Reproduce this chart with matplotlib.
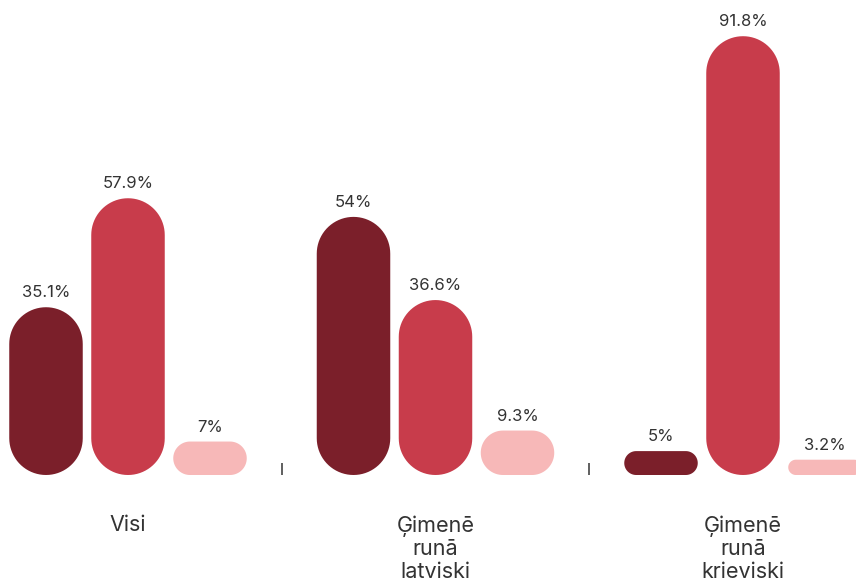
import numpy as np
import matplotlib.pyplot as plt
from matplotlib.patches import Polygon

categories = ["Visi", "Ģimenē\nrunā\nlatviski", "Ģimenē\nrunā\nkrieviski"]
series_a = [35.1, 54, 5]
series_b = [57.9, 36.6, 91.8]
series_c = [7, 9.3, 3.2]
colors = ["#7b1f2a", "#c83c4b", "#f7b8b8"]

plt.rcParams['font.family'] = ['Inter', 'DejaVu Sans']

W, H = 856, 583
fig = plt.figure(figsize=(W / 100, H / 100), dpi=100)
ax_h = 475
ax = fig.add_axes([0, (H - ax_h) / H, 1, ax_h / H])

group_px = 307.5
x_left = -128 / group_px
x_right = (W - 128) / group_px
y_top = ax_h / 4.78
ax.set_xlim(x_left, x_right)
ax.set_ylim(0, y_top)

# pixels per data unit, needed to keep the bar ends circular
sx = W / (x_right - x_left)
sy = ax_h / y_top


def pill(x0, w, h):
    # rounded both ends, radius = half of the smaller side (in pixels)
    r = min(w * sx, h * sy) / 2
    rx, ry = r / sx, r / sy
    cx_r, cx_l = x0 + w - rx, x0 + rx
    cy_t, cy_b = h - ry, ry
    pts = []
    for a in np.linspace(0, np.pi / 2, 20):
        pts.append((cx_r + rx * np.cos(a), cy_t + ry * np.sin(a)))
    for a in np.linspace(np.pi / 2, np.pi, 20):
        pts.append((cx_l + rx * np.cos(a), cy_t + ry * np.sin(a)))
    for a in np.linspace(np.pi, 1.5 * np.pi, 20):
        pts.append((cx_l + rx * np.cos(a), cy_b + ry * np.sin(a)))
    for a in np.linspace(1.5 * np.pi, 2 * np.pi, 20):
        pts.append((cx_r + rx * np.cos(a), cy_b + ry * np.sin(a)))
    return pts


bw = 73.5 / group_px
step = 82 / group_px
x = list(range(len(categories)))

for i, (vals, col) in enumerate(zip([series_a, series_b, series_c], colors)):
    pos = [xx + (i - 1) * step for xx in x]
    bars = ax.bar(pos, vals, width=bw, color=col)
    for b, v in zip(bars, vals):
        x0, w, h = b.get_x(), b.get_width(), b.get_height()
        b.remove()
        ax.add_patch(Polygon(pill(x0, w, h), closed=True, fc=col, ec="none"))
        ax.annotate("%g%%" % v, (x0 + w / 2, h), xytext=(0, 5),
                    textcoords="offset points", ha="center", va="bottom",
                    fontsize=12, color="#333333")

ax.set_xticks(x)
ax.set_xticklabels(categories, fontsize=15.5, color="#333333", linespacing=1.15)
ax.tick_params(axis="x", which="major", length=0, pad=29)
ax.set_xticks([0.5, 1.5], minor=True)
ax.tick_params(axis="x", which="minor", direction="in", length=8.5,
               width=1.2, color="#444444")
ax.set_yticks([])
for s in ax.spines.values():
    s.set_visible(False)

fig.savefig("out.png", dpi=100)
